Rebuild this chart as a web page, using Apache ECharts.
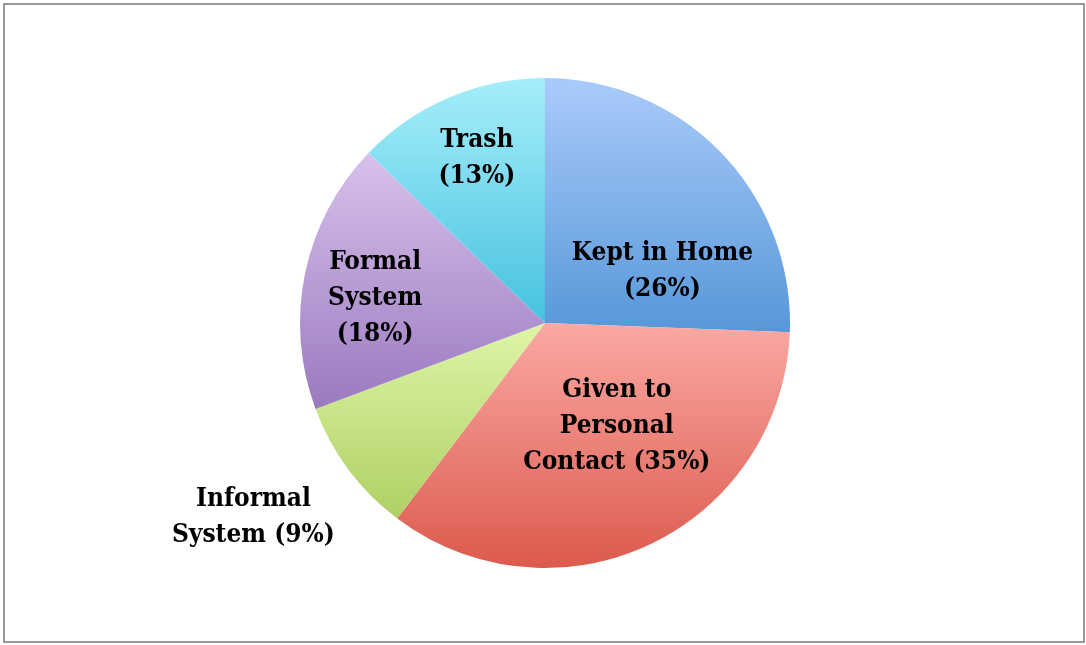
<!DOCTYPE html>
<html>
<head>
<meta charset="utf-8">
<script src="https://cdn.jsdelivr.net/npm/echarts@6/dist/echarts.min.js"></script>
<style>
  html, body { margin: 0; padding: 0; background: #ffffff; }
  #frame { position: absolute; left: 3px; top: 3px; width: 1078px; height: 636px; border: 2px solid #999999; background: #fff; }
  #chart { width: 1078px; height: 636px; }
</style>
</head>
<body>
<div id="frame"><div id="chart"></div></div>
<script>
// ---- data ----
const categories = ['Kept in Home', 'Given to Personal Contact', 'Informal System', 'Formal System', 'Trash'];
const values = [25.6, 34.7, 9.0, 17.9, 12.8];

// ---- styles ----
const gradTop = ['#aacbfa', '#faa9a3', '#def5a7', '#d7c1ec', '#a6eefb'];
const gradBottom = ['#5797d9', '#dc5a4d', '#aed064', '#9a7abf', '#46c2de'];
const labelFmt = [
  (p) => 'Kept in Home\n(' + p + '%)',
  (p) => 'Given to\nPersonal\nContact (' + p + '%)',
  (p) => 'Informal\nSystem (' + p + '%)',
  (p) => 'Formal\nSystem\n(' + p + '%)',
  (p) => 'Trash\n(' + p + '%)'
];
const labelOffsets = [[27, 35], [18, -10], [-191, 119], [-47, 1], [-19, -49]];

const chart = echarts.init(document.getElementById('chart'), null, { renderer: 'canvas' });
chart.setOption({
  animation: false,
  series: [{
    type: 'pie',
    center: [540, 318],
    radius: 245,
    startAngle: 90,
    clockwise: true,
    avoidLabelOverlap: false,
    labelLine: { show: false },
    data: categories.map((c, i) => ({
      name: c,
      value: values[i],
      itemStyle: {
        color: new echarts.graphic.LinearGradient(0, 0, 0, 1, [
          { offset: 0, color: gradTop[i] },
          { offset: 1, color: gradBottom[i] }
        ])
      },
      label: {
        show: true,
        position: 'inside',
        offset: labelOffsets[i],
        formatter: () => labelFmt[i](Math.round(values[i])),
        color: '#000',
        fontFamily: '"DejaVu Serif Condensed", "DejaVu Serif", serif',
        fontWeight: 'bold',
        fontSize: 26,
        lineHeight: 36,
        align: 'center'
      }
    }))
  }]
});
</script>
</body>
</html>
